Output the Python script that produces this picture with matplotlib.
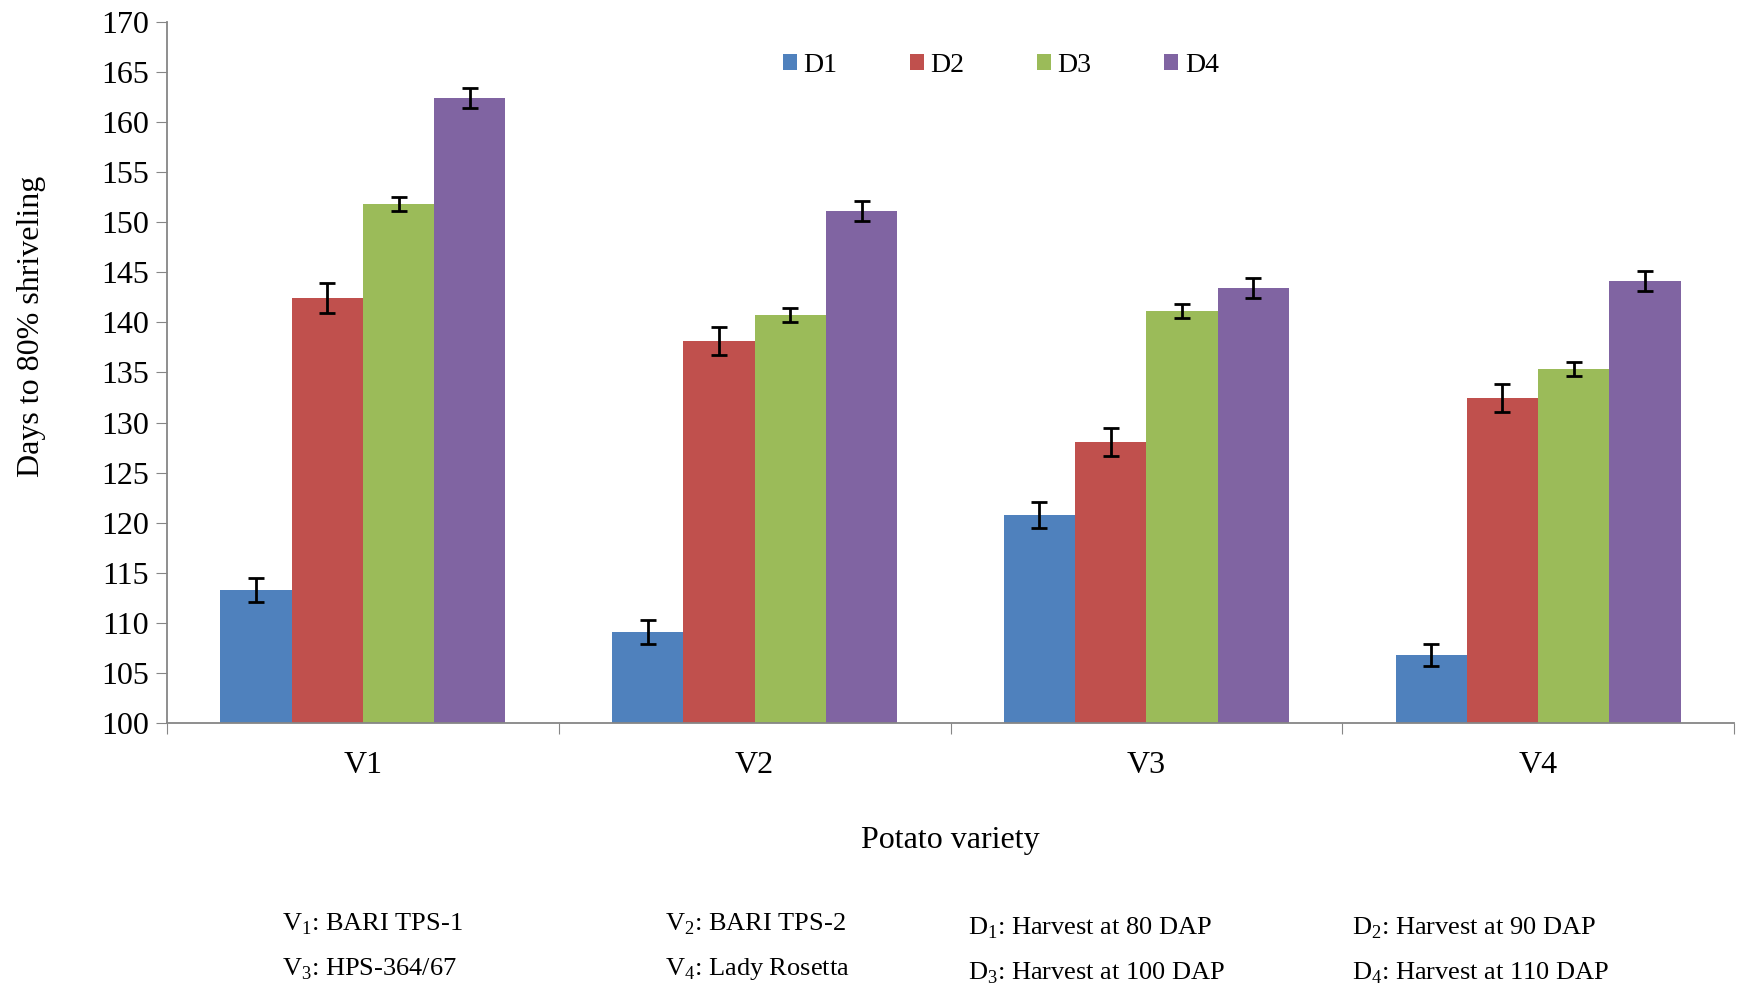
import matplotlib
matplotlib.use("Agg")
import matplotlib.pyplot as plt
import numpy as np

plt.rcParams['font.family'] = ['Liberation Serif', 'DejaVu Serif']
plt.rcParams['mathtext.fontset'] = 'custom'
plt.rcParams['mathtext.rm'] = 'Liberation Serif'

# data
varieties = ["V1", "V2", "V3", "V4"]
series_names = ["D1", "D2", "D3", "D4"]
d1 = [113.3, 109.1, 120.8, 106.8]
d2 = [142.4, 138.1, 128.1, 132.4]
d3 = [151.8, 140.7, 141.1, 135.3]
d4 = [162.4, 151.1, 143.4, 144.1]
d1_err = [1.2, 1.2, 1.3, 1.1]
d2_err = [1.5, 1.4, 1.4, 1.4]
d3_err = [0.7, 0.7, 0.7, 0.7]
d4_err = [1.0, 1.0, 1.0, 1.0]
yticks = list(range(100, 171, 5))
notes_row1 = [r"V$_1$: BARI TPS-1", r"V$_2$: BARI TPS-2", r"D$_1$: Harvest at 80 DAP", r"D$_2$: Harvest at 90 DAP"]
notes_row2 = [r"V$_3$: HPS-364/67", r"V$_4$: Lady Rosetta", r"D$_3$: Harvest at 100 DAP", r"D$_4$: Harvest at 110 DAP"]

colors = ["#4F81BD", "#C0504D", "#9BBB59", "#8064A2"]
values = [d1, d2, d3, d4]
errors = [d1_err, d2_err, d3_err, d4_err]

fig = plt.figure(figsize=(17.45, 9.91), dpi=100)
ax = fig.add_axes([0.0957, 0.2704, 0.898, 0.7076])

x = np.arange(len(varieties))
width = 0.182
for i, (name, vals, errs) in enumerate(zip(series_names, values, errors)):
    pos = x + (i - 1.5) * width
    ax.bar(pos, np.array(vals) - 100, width, bottom=100, color=colors[i], label=name)
    ax.errorbar(pos, vals, yerr=errs, fmt='none', ecolor='black', elinewidth=2, capsize=6, capthick=2)

ax.set_ylim(100, 170)
ax.set_xlim(-0.5, len(varieties) - 0.5)
ax.set_yticks(yticks)
ax.tick_params(axis='y', labelsize=23, length=8, color='#868686', direction='out', pad=5)

# boundary ticks without labels, category labels on minor ticks
ax.set_xticks(np.arange(-0.5, len(varieties), 1.0))
ax.set_xticklabels([])
ax.set_xticks(x, minor=True)
ax.set_xticklabels(varieties, minor=True)
ax.tick_params(axis='x', which='major', length=8, color='#868686', direction='out')
ax.tick_params(axis='x', which='minor', length=0, labelsize=23, pad=20)

for s in ['top', 'right']:
    ax.spines[s].set_visible(False)
for s in ['left', 'bottom']:
    ax.spines[s].set_color('#868686')
    ax.spines[s].set_linewidth(1.3)

ax.set_ylabel("Days to 80% shriveling", fontsize=23)
ax.yaxis.set_label_coords(-0.077, 0.566)
ax.set_xlabel("Potato variety", fontsize=23)
ax.xaxis.set_label_coords(0.5, -0.147)

ax.legend(loc='center', bbox_to_anchor=(0.532, 0.938), ncol=4, frameon=False,
          fontsize=20, handlelength=0.5, handleheight=0.5, handletextpad=0.25,
          columnspacing=2.6)

note_x = [282, 665, 968, 1352]
note_dy = [0, 0, 4, 4]
for nx, dy, t1, t2 in zip(note_x, note_dy, notes_row1, notes_row2):
    fig.text(nx / 1745, 1 - (924 + dy) / 991, t1, fontsize=19, va='center', ha='left')
    fig.text(nx / 1745, 1 - (969 + dy) / 991, t2, fontsize=19, va='center', ha='left')

fig.savefig("out.png", dpi=100)
